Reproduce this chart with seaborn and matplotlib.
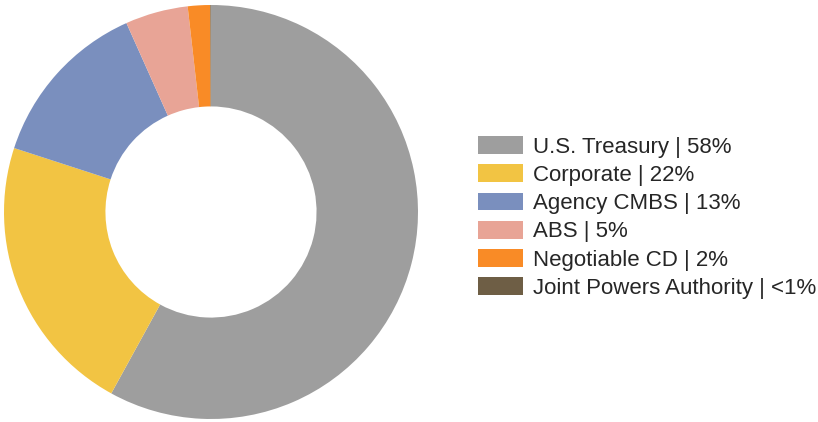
import matplotlib
matplotlib.use("Agg")
import matplotlib.pyplot as plt
from matplotlib.patches import Patch
import seaborn as sns

sns.set_theme(style="white")
plt.rcParams["font.family"] = ["Liberation Sans", "DejaVu Sans"]

# Portfolio sector allocation
sectors = [
    "U.S. Treasury",
    "Corporate",
    "Agency CMBS",
    "ABS",
    "Negotiable CD",
    "Joint Powers Authority",
]
shares = [58.0, 22.0, 13.3, 4.9, 1.75, 0.05]
share_labels = ["58%", "22%", "13%", "5%", "2%", "<1%"]
colors = ["#9e9e9e", "#f2c443", "#7a8fbe", "#e8a496", "#f98b26", "#6e5e45"]

fig = plt.figure(figsize=(8.18, 4.22), dpi=100)
ax = fig.add_axes([4 / 818, 3 / 422, 414 / 818, 414 / 422])
ax.pie(
    shares,
    colors=colors,
    startangle=90,
    counterclock=False,
    radius=1.0,
    wedgeprops=dict(width=0.49, linewidth=0),
)
ax.set_xlim(-1, 1)
ax.set_ylim(-1, 1)
ax.set_aspect("equal")
ax.axis("off")

handles = [Patch(facecolor=c, edgecolor="none") for c in colors]
labels = [f"{s} | {p}" for s, p in zip(sectors, share_labels)]
fig.legend(
    handles,
    labels,
    loc="upper left",
    bbox_to_anchor=(478 / 818, 1 - 136 / 422),
    frameon=False,
    fontsize=16,
    handlelength=2.03,
    handleheight=0.86,
    handletextpad=0.45,
    labelspacing=0.30,
    borderpad=0,
    borderaxespad=0,
)

fig.savefig("out.png", dpi=100)
